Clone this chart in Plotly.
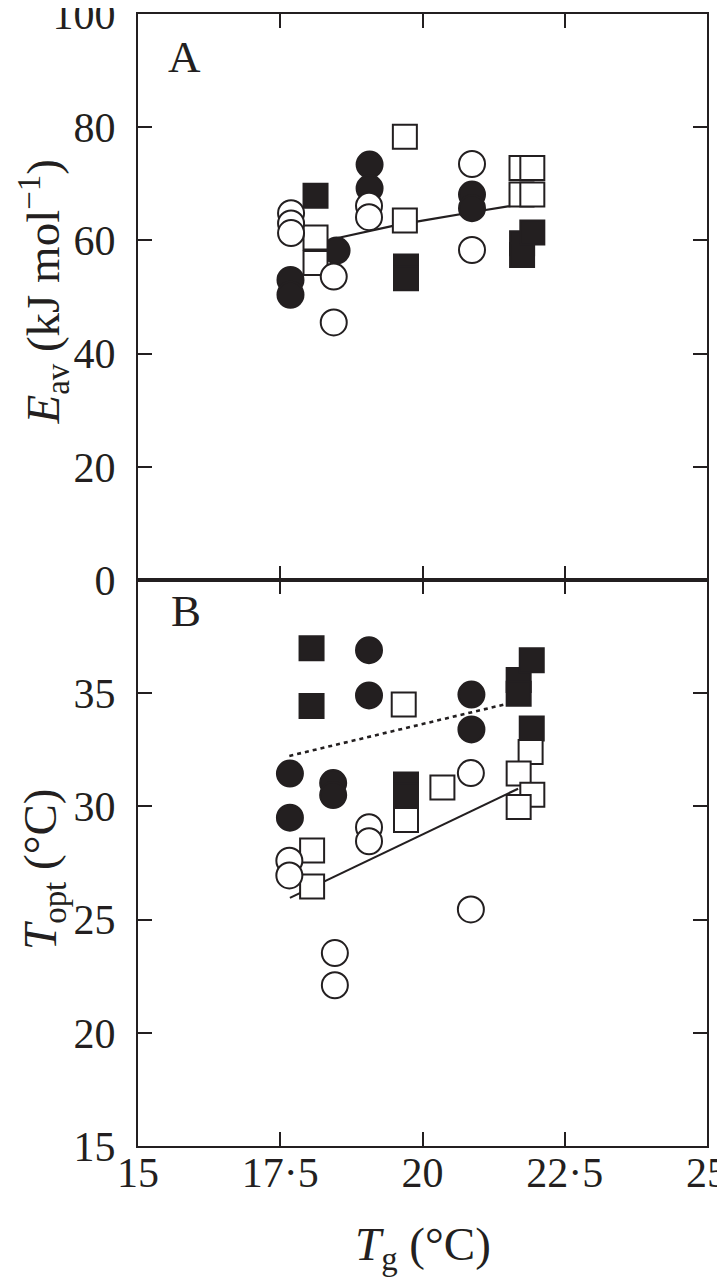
import plotly.graph_objects as go

# ---------------- Panel A: E_av (kJ mol-1) vs Tg ----------------
a_fc_x = [17.68, 17.68, 18.49, 19.07, 19.07, 20.87, 20.87]
a_fc_y = [53.0, 50.4, 58.2, 73.4, 69.2, 68.1, 65.7]
a_oc_x = [17.69, 17.69, 17.69, 18.44, 18.44, 19.06, 19.06, 20.87, 20.87]
a_oc_y = [64.8, 63.0, 61.3, 53.6, 45.5, 66.1, 64.1, 73.5, 58.3]
a_fs_x = [18.12, 19.71, 19.71, 21.75, 21.75, 21.93]
a_fs_y = [67.9, 55.4, 53.3, 59.5, 57.4, 61.4]
a_os_x = [18.12, 18.12, 19.69, 19.69, 21.74, 21.93, 21.74, 21.93]
a_os_y = [60.5, 56.0, 78.3, 63.5, 72.8, 72.8, 68.1, 68.1]
a_fit_x = [18.45, 19.0, 19.5, 20.0, 20.5, 21.0, 21.5, 21.9]
a_fit_y = [60.3, 61.5, 62.6, 63.5, 64.4, 65.2, 66.0, 66.6]

# ---------------- Panel B: T_opt (°C) vs Tg ----------------
b_fc_x = [17.67, 17.67, 18.43, 18.43, 19.06, 19.06, 20.86, 20.86]
b_fc_y = [31.45, 29.5, 31.03, 30.5, 36.9, 34.9, 34.94, 33.4]
b_oc_x = [17.66, 17.66, 18.46, 18.46, 19.06, 19.06, 20.85, 20.85]
b_oc_y = [27.6, 26.95, 23.52, 22.1, 29.08, 28.46, 31.47, 25.45]
b_fs_x = [18.05, 18.05, 19.71, 19.71, 21.69, 21.69, 21.92, 21.92]
b_fs_y = [36.98, 34.44, 30.97, 30.49, 35.58, 34.98, 36.46, 33.44]
b_os_x = [18.06, 18.06, 19.67, 19.71, 20.35, 21.90, 21.69, 21.93, 21.69]
b_os_y = [28.05, 26.46, 34.5, 29.4, 30.83, 32.4, 31.45, 30.52, 29.97]
b_dash_x = [17.66, 21.7]
b_dash_y = [32.23, 34.66]
b_solid_x = [17.67, 21.68]
b_solid_y = [25.96, 30.78]

x_ticks = [15, 17.5, 20, 22.5, 25]
x_ticktext = ["15", "17·5", "20", "22·5", "25"]
a_yticks = [0, 20, 40, 60, 80, 100]
b_yticks = [15, 20, 25, 30, 35]

INK = "#231f20"
FONT = "Liberation Serif"
CIRC = 26
SQ = 24
TICKSIZE = 42
TITLESIZE = 47

fig = go.Figure()

def add_marks(xs, ys, symbol, filled, xa, ya):
    fig.add_trace(go.Scatter(
        x=xs, y=ys, mode="markers", xaxis=xa, yaxis=ya, showlegend=False,
        marker=dict(symbol=symbol, size=CIRC if symbol == "circle" else SQ,
                    color=INK if filled else "white",
                    line=dict(color=INK, width=2))))

# Panel A
fig.add_trace(go.Scatter(x=a_fit_x, y=a_fit_y, mode="lines", xaxis="x", yaxis="y",
                         line=dict(color=INK, width=2.2), showlegend=False))
add_marks(a_fc_x, a_fc_y, "circle", True, "x", "y")
add_marks(a_fs_x, a_fs_y, "square", True, "x", "y")
add_marks(a_os_x, a_os_y, "square", False, "x", "y")
add_marks(a_oc_x, a_oc_y, "circle", False, "x", "y")

# Panel B
fig.add_trace(go.Scatter(x=b_dash_x, y=b_dash_y, mode="lines", xaxis="x2", yaxis="y2",
                         line=dict(color=INK, width=2.6, dash="4px,4px"), showlegend=False))
fig.add_trace(go.Scatter(x=b_solid_x, y=b_solid_y, mode="lines", xaxis="x2", yaxis="y2",
                         line=dict(color=INK, width=2.2), showlegend=False))
add_marks(b_fc_x, b_fc_y, "circle", True, "x2", "y2")
add_marks(b_fs_x, b_fs_y, "square", True, "x2", "y2")
add_marks(b_os_x, b_os_y, "square", False, "x2", "y2")
add_marks(b_oc_x, b_oc_y, "circle", False, "x2", "y2")

axis_common = dict(showline=True, linecolor=INK, linewidth=2, mirror="ticks",
                   ticks="inside", ticklen=14, tickwidth=2, tickcolor=INK,
                   showgrid=False, zeroline=False, automargin=False,
                   ticklabeloverflow="allow",
                   tickfont=dict(family=FONT, size=TICKSIZE, color=INK))

# page body has an 8 px margin; the figure is sized so the plot frame lands
# at x 138-707, y 14-1146 in the 725x1280 window
fig.update_layout(
    width=717, height=1272,
    margin=dict(l=130, r=18, t=6, b=134),
    paper_bgcolor="white", plot_bgcolor="white",
    xaxis=dict(axis_common, range=[15, 25], tickvals=x_ticks, ticktext=x_ticktext,
               showticklabels=False, anchor="y", domain=[0, 1]),
    yaxis=dict(axis_common, range=[0, 100], tickvals=a_yticks, domain=[0.5, 1],
               anchor="x", ticklabelstandoff=12),
    xaxis2=dict(axis_common, range=[15, 25], tickvals=x_ticks, ticktext=x_ticktext,
                anchor="y2", domain=[0, 1], matches="x", ticklabelstandoff=-11),
    yaxis2=dict(axis_common, range=[15, 40], tickvals=b_yticks, domain=[0, 0.5],
                anchor="x2", ticklabelstandoff=12),
)

def ann(text, x, y, size, angle=0):
    fig.add_annotation(text=text, x=x, y=y, xref="paper", yref="paper",
                       showarrow=False, textangle=angle, xanchor="center", yanchor="middle",
                       font=dict(family=FONT, size=size, color=INK))

ann("A", 0.081, 0.962, 45)
ann("B", 0.084, 0.473, 45)
ann("<i>E</i><sub>av</sub> (kJ mol<sup>−1</sup>)", -0.165, 0.754, TITLESIZE, angle=-90)
ann("<i>T</i><sub>opt</sub> (°C)", -0.165, 0.244, TITLESIZE, angle=-90)
ann("<i>T</i><sub>g</sub> (°C)", 0.5, -0.09, TITLESIZE)

fig.write_html("out.html")
